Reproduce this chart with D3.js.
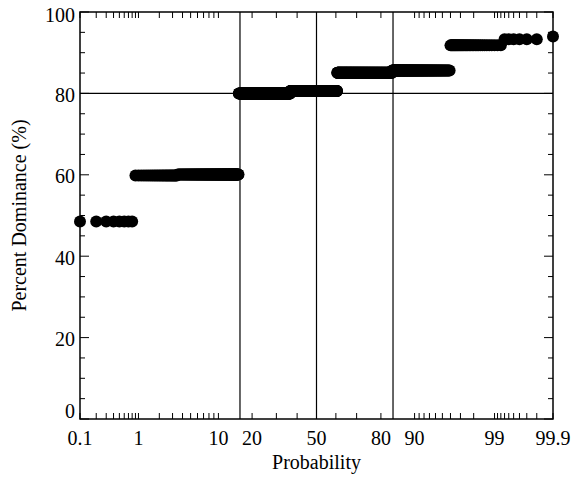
<!DOCTYPE html>
<html>
<head>
<meta charset="utf-8">
<script src="https://cdn.jsdelivr.net/npm/d3@7"></script>
<style>
  html, body { margin: 0; padding: 0; background: #fff; }
  svg { display: block; }
</style>
</head>
<body>
<svg id="chart" width="576" height="478"></svg>
<script>
// ---- data (run-length of sorted observations) ----
const groupValues = [48.5, 59.8, 60.1, 80.0, 80.6, 85.1, 85.6, 91.8, 93.3, 94.0];
const groupCounts = [8, 26, 120, 211, 241, 232, 121, 33, 6, 1];
const xTickValues = [0.1,0.2,0.3,0.4,0.5,0.6,0.7,0.8,0.9,1,2,3,4,5,6,7,8,9,10,20,30,40,50,60,70,80,90,91,92,93,94,95,96,97,98,99,99.1,99.2,99.3,99.4,99.5,99.6,99.7,99.8,99.9];
const xTickLabels = [0.1, 1, 10, 20, 50, 80, 90, 99, 99.9];
const yMajorTicks = [0, 20, 40, 60, 80, 100];
const yMinorTicks = [5,10,15,25,30,35,45,50,55,65,70,75,85,90,95];
const refProbabilities = [15.87, 50, 84.13];
const refDominance = [80];

const FONT = "'Liberation Serif', 'Times New Roman', Times, 'DejaVu Serif', serif";

// inverse standard normal CDF (Acklam)
function invNorm(p) {
  const a=[-3.969683028665376e+01,2.209460984245205e+02,-2.759285104469687e+02,1.383577518672690e+02,-3.066479806614716e+01,2.506628277459239e+00];
  const b=[-5.447609879822406e+01,1.615858368580409e+02,-1.556989798598866e+02,6.680131188771972e+01,-1.328068155288572e+01];
  const c=[-7.784894002430293e-03,-3.223964580411365e-01,-2.400758277161838e+00,-2.549732539343734e+00,4.374664141464968e+00,2.938163982698783e+00];
  const d=[7.784695709041462e-03,3.224671290700398e-01,2.445134137142996e+00,3.754408661907416e+00];
  const pl=0.02425, ph=1-pl; let q,r;
  if (p<pl){q=Math.sqrt(-2*Math.log(p));return (((((c[0]*q+c[1])*q+c[2])*q+c[3])*q+c[4])*q+c[5])/((((d[0]*q+d[1])*q+d[2])*q+d[3])*q+1);}
  if (p<=ph){q=p-0.5;r=q*q;return (((((a[0]*r+a[1])*r+a[2])*r+a[3])*r+a[4])*r+a[5])*q/(((((b[0]*r+b[1])*r+b[2])*r+b[3])*r+b[4])*r+1);}
  q=Math.sqrt(-2*Math.log(1-p));return -(((((c[0]*q+c[1])*q+c[2])*q+c[3])*q+c[4])*q+c[5])/((((d[0]*q+d[1])*q+d[2])*q+d[3])*q+1);
}

// observations and plotting positions
const obs = [];
groupValues.forEach((v, gi) => { for (let k = 0; k < groupCounts[gi]; k++) obs.push(v); });
const N = obs.length;
const points = obs.map((v, i) => ({ p: 100 * (i + 1) / (N + 1), v }));

const L = 80, R = 553, T = 12, B = 419;
const zScale = d3.scaleLinear().domain([invNorm(0.001), invNorm(0.999)]).range([L, R]);
const x = pct => zScale(invNorm(pct / 100));
const y = d3.scaleLinear().domain([0, 100]).range([B, T]);

const svg = d3.select("#chart");

// reference lines
svg.append("g").selectAll("line").data(refProbabilities).join("line")
  .attr("x1", d => x(d)).attr("x2", d => x(d)).attr("y1", T).attr("y2", B)
  .attr("stroke", "#000").attr("stroke-width", 1.2);
svg.append("g").selectAll("line").data(refDominance).join("line")
  .attr("x1", L).attr("x2", R).attr("y1", d => y(d)).attr("y2", d => y(d))
  .attr("stroke", "#000").attr("stroke-width", 1.2);

// points
svg.append("g").selectAll("circle").data(points).join("circle")
  .attr("cx", d => x(d.p)).attr("cy", d => y(d.v)).attr("r", 6).attr("fill", "#000");

// frame
svg.append("rect").attr("x", L).attr("y", T).attr("width", R - L).attr("height", B - T)
  .attr("fill", "none").attr("stroke", "#000").attr("stroke-width", 1.5);

// x ticks (bottom and top, inward)
const xt = svg.append("g");
xTickValues.forEach(t => {
  xt.append("line").attr("x1", x(t)).attr("x2", x(t)).attr("y1", B).attr("y2", B - 6).attr("stroke", "#000").attr("stroke-width", 1);
  xt.append("line").attr("x1", x(t)).attr("x2", x(t)).attr("y1", T).attr("y2", T + 6).attr("stroke", "#000").attr("stroke-width", 1);
});
svg.append("g").selectAll("text").data(xTickLabels).join("text")
  .attr("x", d => x(d)).attr("y", 445).attr("text-anchor", "middle")
  .attr("font-family", FONT).attr("font-size", 20).attr("fill", "#000").text(d => d);

// y ticks (left and right, inward)
const yt = svg.append("g");
yMajorTicks.forEach(t => {
  yt.append("line").attr("x1", L).attr("x2", L + 9).attr("y1", y(t)).attr("y2", y(t)).attr("stroke", "#000");
  yt.append("line").attr("x1", R).attr("x2", R - 9).attr("y1", y(t)).attr("y2", y(t)).attr("stroke", "#000");
});
yMinorTicks.forEach(t => {
  yt.append("line").attr("x1", L).attr("x2", L + 5).attr("y1", y(t)).attr("y2", y(t)).attr("stroke", "#000");
  yt.append("line").attr("x1", R).attr("x2", R - 5).attr("y1", y(t)).attr("y2", y(t)).attr("stroke", "#000");
});
svg.append("g").selectAll("text").data(yMajorTicks).join("text")
  .attr("x", 75).attr("y", d => y(d) + (d === 0 ? -1 : d === 100 ? 10 : 8.5))
  .attr("text-anchor", "end").attr("font-family", FONT).attr("font-size", 20).attr("fill", "#000").text(d => d);

// axis titles
svg.append("text").attr("x", (L + R) / 2).attr("y", 469).attr("text-anchor", "middle")
  .attr("font-family", FONT).attr("font-size", 20).attr("fill", "#000").text("Probability");
svg.append("text").attr("transform", `translate(26, ${(T + B) / 2}) rotate(-90)`)
  .attr("text-anchor", "middle").attr("font-family", FONT).attr("font-size", 20).attr("fill", "#000")
  .text("Percent Dominance (%)");
</script>
</body>
</html>
